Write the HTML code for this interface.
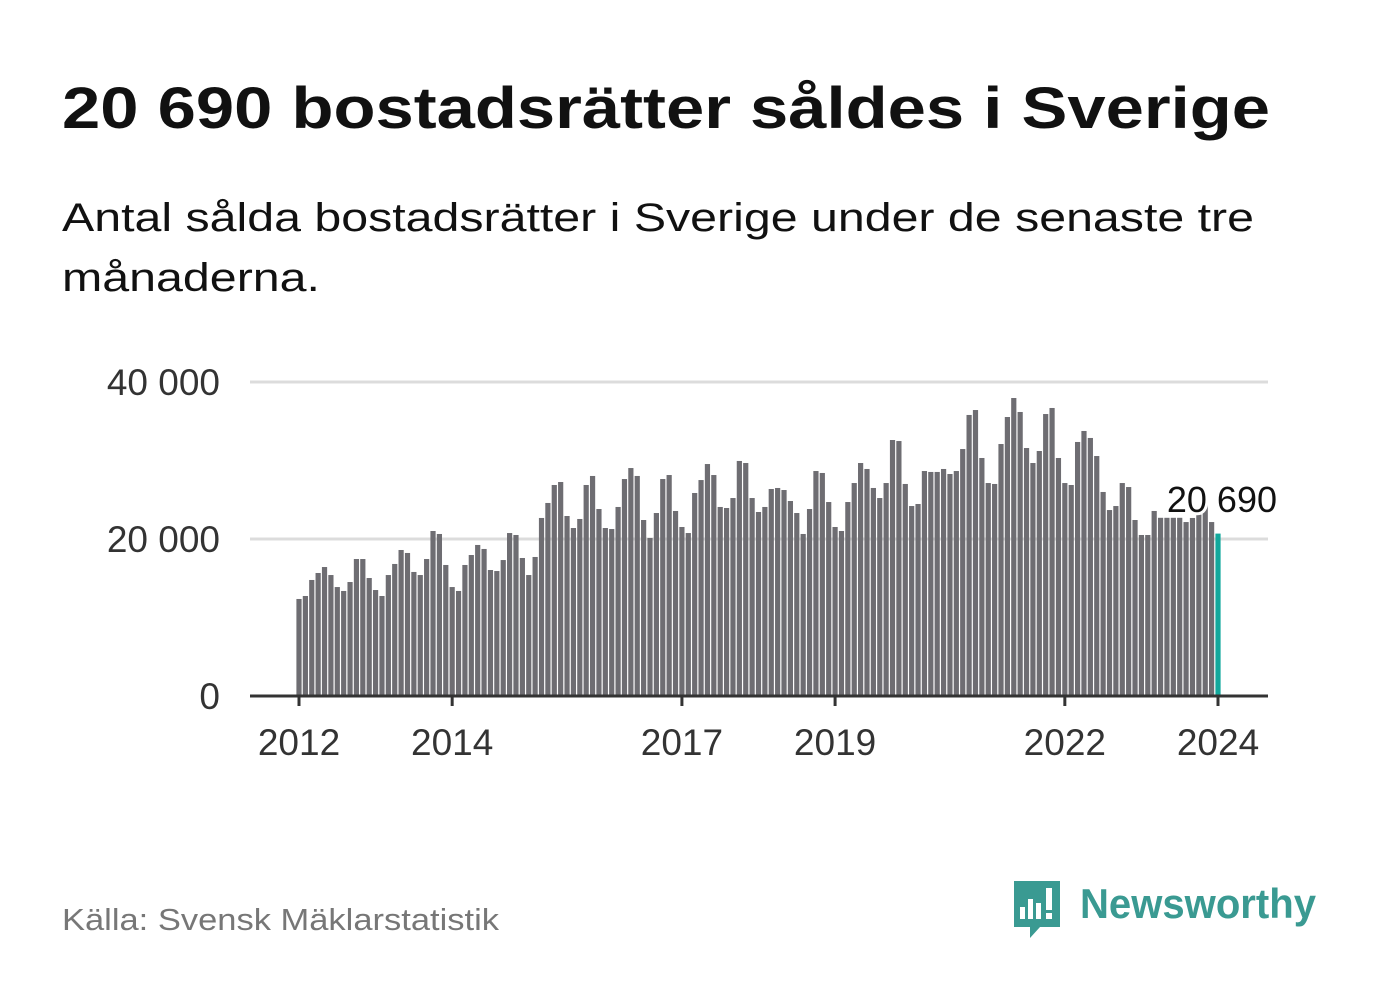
<!DOCTYPE html>
<html><head><meta charset="utf-8"><style>
body{margin:0;background:#fff;}
svg{display:block;font-family:"Liberation Sans",sans-serif;}
</style></head><body>
<svg width="1382" height="999" viewBox="0 0 1382 999">
<text x="62" y="128" font-size="58" font-weight="bold" fill="#111" textLength="1208" lengthAdjust="spacingAndGlyphs">20 690 bostadsrätter såldes i Sverige</text>
<text x="62" y="231" font-size="40" fill="#111" textLength="1192" lengthAdjust="spacingAndGlyphs">Antal sålda bostadsrätter i Sverige under de senaste tre</text>
<text x="62" y="291" font-size="40" fill="#111" textLength="258" lengthAdjust="spacingAndGlyphs">månaderna.</text>
<g id="plot"></g>
<text x="62" y="930" font-size="31" fill="#777" textLength="437" lengthAdjust="spacingAndGlyphs">Källa: Svensk Mäklarstatistik</text>
<g>
<path d="M1014 881 h46 v46 h-20 l-10 11 v-11 h-16 z" fill="#3a9a92"/>
<rect x="1020" y="907" width="5" height="12" fill="#fff"/>
<rect x="1028" y="899" width="5" height="20" fill="#fff"/>
<rect x="1036" y="903" width="5" height="16" fill="#fff"/>
<rect x="1046" y="888" width="6" height="22" fill="#fff"/>
<rect x="1046" y="913" width="6" height="6" fill="#fff"/>
<text x="1080" y="918" font-size="42" font-weight="bold" fill="#3a9a92" textLength="236" lengthAdjust="spacingAndGlyphs">Newsworthy</text>
</g>
</svg>
<script>
const values = [12360,12740,14780,15670,16430,15410,13880,13380,14520,17450,17450,15030,
13500,12740,15410,16820,18600,18220,15800,15410,17450,21020,20640,16690,
13880,13380,16690,17960,19240,18730,16050,15920,17320,20760,20510,17580,
15410,17710,22680,24590,26880,27260,22930,21400,22550,26880,28030,23820,
21400,21270,24080,27640,29040,28030,22420,20130,23310,27640,28150,23570,
21530,20760,25860,27510,29550,28150,24080,23950,25220,29940,29680,25220,
23440,24080,26370,26500,26240,24840,23310,20640,23820,28660,28410,24710,
21530,21020,24710,27130,29680,28920,26500,25220,27130,32610,32480,27010,
24200,24460,28660,28540,28540,28920,28280,28660,31460,35800,36430,30320,
27130,27010,32100,35540,37960,36180,31590,29680,31210,35920,36690,30320,
27130,26880,32360,33760,32870,30570,25990,23690,24200,27130,26620,22420,
20510,20510,23570,22700,22700,22700,22700,22160,22680,23100,25600,22160,
20690];
const yTicks = [0,20000,40000];
const yTickLabels = ["0","20 000","40 000"];
const xTickYears = [2012,2014,2017,2019,2022,2024];
const lastLabel = "20 690";

const NS="http://www.w3.org/2000/svg";
const plot=document.getElementById('plot');
const x0=299, x1=1218, y0=696, yTop=382;
const xScale=i=>x0+(x1-x0)*i/(values.length-1);
const yScale=v=>y0-(y0-yTop)*v/40000;
function mk(tag,attrs){const e=document.createElementNS(NS,tag);for(const k in attrs)e.setAttribute(k,attrs[k]);plot.appendChild(e);return e;}
yTicks.forEach((t,j)=>{
  if(t>0){const g=mk('line',{x1:250,x2:1268,y1:yScale(t),y2:yScale(t),stroke:'#dcdcdc','stroke-width':3});
  
  }
  const l=mk('text',{x:220,y:yScale(t)+13,'font-size':37,fill:'#333','text-anchor':'end'});
  l.textContent=yTickLabels[j];
  
  
});
values.forEach((v,i)=>{
  const last=i===values.length-1;
  const r=mk('rect',{x:xScale(i)-2.6,y:yScale(v),width:5.2,height:y0-yScale(v),fill:last?'#12a89c':'#6e6d72'});
  
  
});
const ax=mk('line',{x1:250,x2:1268,y1:y0,y2:y0,stroke:'#333','stroke-width':3});


xTickYears.forEach(yr=>{
  const xi=xScale((yr-2012)*12);
  const t=mk('line',{x1:xi,x2:xi,y1:y0,y2:y0+10,stroke:'#333','stroke-width':3});
  
  
  const l=mk('text',{x:xi,y:755,'font-size':37,fill:'#333','text-anchor':'middle'});
  l.textContent=yr;
  
  
});
const lab=mk('text',{x:1277,y:512,'font-size':36,fill:'#111','text-anchor':'end',stroke:'#fff','stroke-width':6,'paint-order':'stroke','stroke-linejoin':'round'});
lab.textContent=lastLabel;


</script>
</body></html>
